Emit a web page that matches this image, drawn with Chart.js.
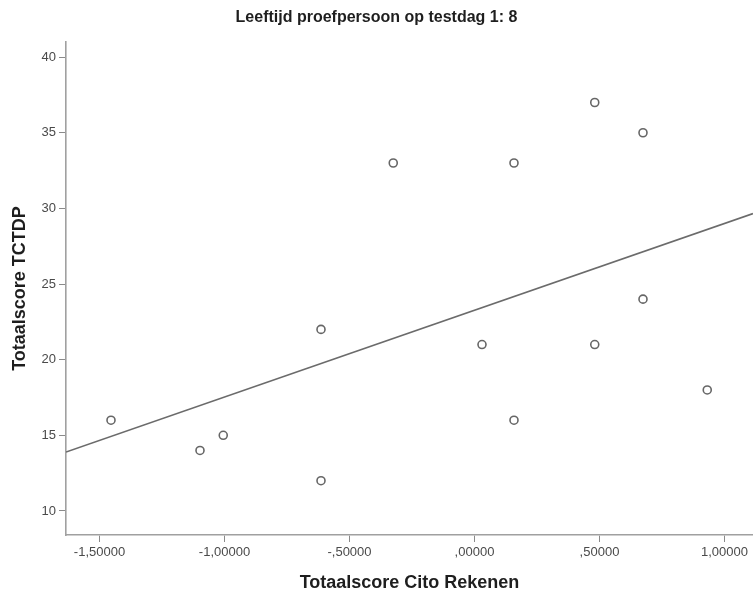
<!DOCTYPE html>
<html>
<head>
<meta charset="utf-8">
<script src="https://cdn.jsdelivr.net/npm/chart.js@4/dist/chart.umd.min.js"></script>
<style>
  html, body { margin: 0; padding: 0; background: #ffffff; }
  #wrap { width: 753px; height: 597px; }
</style>
</head>
<body>
<div id="wrap"><canvas id="c" width="753" height="597"></canvas></div>
<script>
// ---- data ----
const citoScores  = [0.481, 0.674, 0.158, 0.674, 0.030, 0.481, 0.931, 0.158, -0.325, -0.614, -1.454, -1.005, -1.098, -0.614];
const tctdpScores = [37, 35, 33, 24, 21, 21, 18, 16, 33, 22, 16, 15, 14, 12];
const xTickValues = [-1.5, -1.0, -0.5, 0, 0.5, 1.0];
const yTickValues = [10, 15, 20, 25, 30, 35, 40];
const chartTitle = 'Leeftijd proefpersoon op testdag 1: 8';
const xTitle = 'Totaalscore Cito Rekenen';
const yTitle = 'Totaalscore TCTDP';
const xRange = [-1.634, 1.114];
const yRange = [8.41, 41.0];

// least squares fit line from the data
const n = citoScores.length;
const mx = citoScores.reduce((a, b) => a + b, 0) / n;
const my = tctdpScores.reduce((a, b) => a + b, 0) / n;
let sxy = 0, sxx = 0;
for (let i = 0; i < n; i++) {
  sxy += (citoScores[i] - mx) * (tctdpScores[i] - my);
  sxx += (citoScores[i] - mx) * (citoScores[i] - mx);
}
const slope = sxy / sxx;
const intercept = my - slope * mx;
const fitPoints = xRange.map(x => ({ x: x, y: intercept + slope * x }));

const points = citoScores.map((x, i) => ({ x: x, y: tctdpScores[i] }));

function fmtX(v) {
  let s = Math.abs(v).toFixed(5).replace('.', ',');
  if (s.startsWith('0,')) s = s.slice(1);
  return (v < 0 ? '-' : '') + s;
}

const FONT = '"Liberation Sans", Arial, sans-serif';

new Chart(document.getElementById('c'), {
  type: 'scatter',
  data: {
    datasets: [
      {
        label: 'fit',
        data: fitPoints,
        showLine: true,
        borderColor: '#6b6b6b',
        borderWidth: 1.6,
        pointRadius: 0,
        fill: false,
        order: 2
      },
      {
        label: 'points',
        data: points,
        pointRadius: 4,
        pointBorderWidth: 1.6,
        pointBorderColor: '#666666',
        pointBackgroundColor: 'rgba(255,255,255,0)',
        order: 1
      }
    ]
  },
  options: {
    responsive: false,
    animation: false,
    layout: { autoPadding: false, padding: { left: 0, right: 0, top: 0, bottom: 0 } },
    plugins: {
      legend: { display: false },
      tooltip: { enabled: false },
      title: {
        display: true,
        text: chartTitle,
        color: '#1e1e1e',
        font: { family: FONT, size: 16, weight: 'bold', lineHeight: 1.2 },
        padding: { top: 8.4, bottom: 14.4 }
      }
    },
    scales: {
      x: {
        type: 'linear',
        min: xRange[0],
        max: xRange[1],
        afterBuildTicks: (axis) => { axis.ticks = xTickValues.map(v => ({ value: v })); },
        afterFit: (axis) => { axis.height = 62; },
        ticks: {
          callback: (v) => fmtX(v),
          color: '#4a4a4a',
          font: { family: FONT, size: 13 },
          padding: 3,
          maxRotation: 0,
          autoSkip: false
        },
        grid: { drawOnChartArea: false, drawTicks: true, tickLength: 7, color: '#8a8a8a', lineWidth: 1 },
        border: { display: true, color: '#a0a0a0', width: 1.6 },
        title: {
          display: true,
          text: xTitle,
          color: '#1e1e1e',
          font: { family: FONT, size: 18, weight: 'bold', lineHeight: 1.2 },
          padding: { top: 0, bottom: 3.2 }
        }
      },
      y: {
        type: 'linear',
        min: yRange[0],
        max: yRange[1],
        afterBuildTicks: (axis) => { axis.ticks = yTickValues.map(v => ({ value: v })); },
        afterFit: (axis) => { axis.width = 66; },
        ticks: {
          color: '#4a4a4a',
          font: { family: FONT, size: 13 },
          padding: 3,
          autoSkip: false
        },
        grid: { drawOnChartArea: false, drawTicks: true, tickLength: 7, color: '#8a8a8a', lineWidth: 1 },
        border: { display: true, color: '#a0a0a0', width: 1.6 },
        title: {
          display: true,
          text: yTitle,
          color: '#1e1e1e',
          font: { family: FONT, size: 18, weight: 'bold', lineHeight: 1.2 },
          padding: { top: 9.2, bottom: 0 }
        }
      }
    }
  }
});
</script>
</body>
</html>
